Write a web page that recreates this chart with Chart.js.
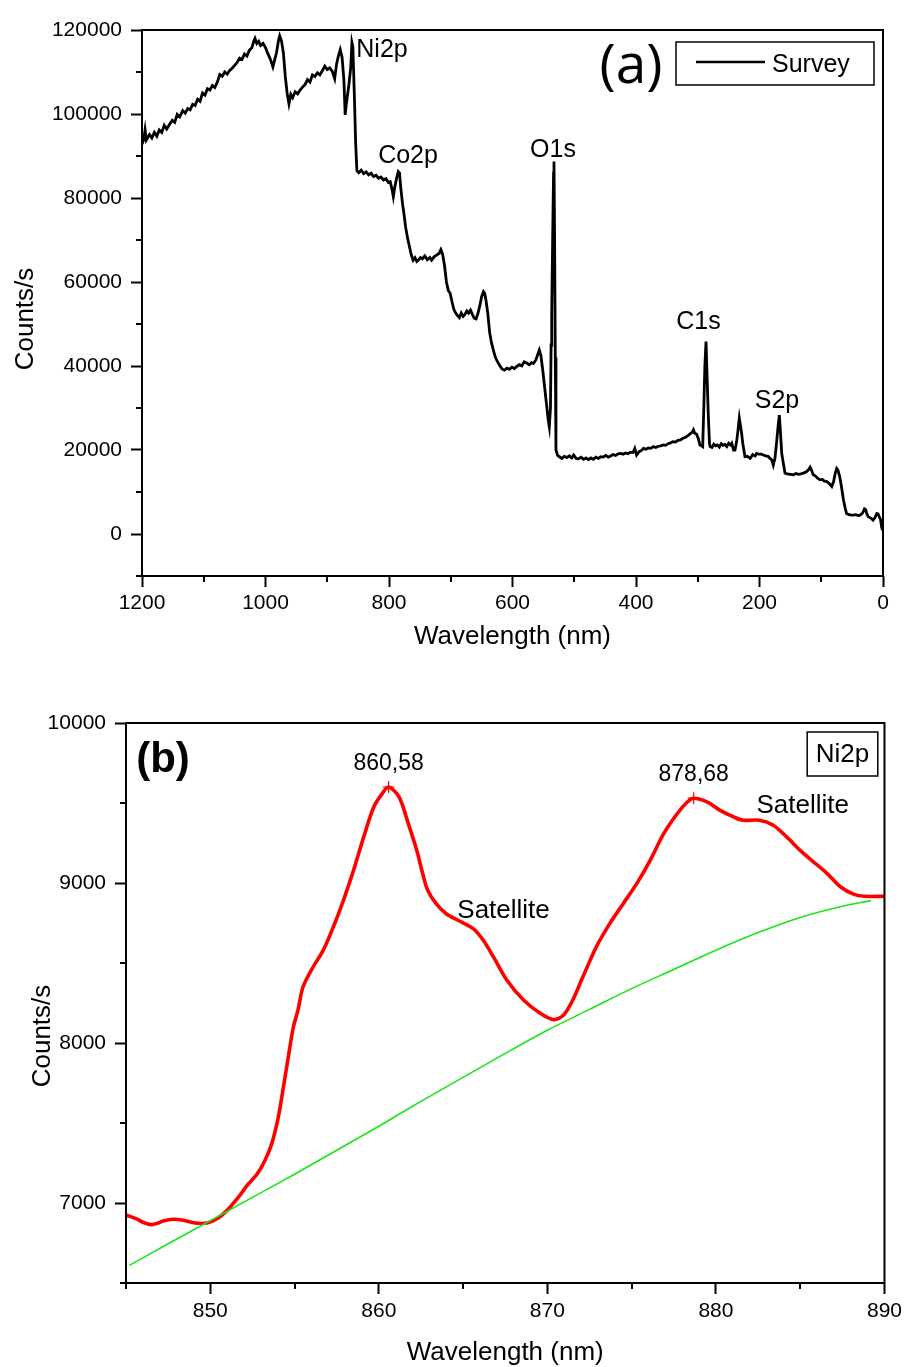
<!DOCTYPE html>
<html>
<head>
<meta charset="utf-8">
<title>XPS spectra</title>
<script src="https://cdn.jsdelivr.net/npm/chart.js@4.4.0/dist/chart.umd.min.js"></script>
<style>
  html, body { margin: 0; padding: 0; background: #fff; }
  #wrap { position: relative; width: 907px; height: 1367px; overflow: hidden; background: #fff; }
  canvas { position: absolute; left: 0; }
  #survey { top: 0; width: 907px; height: 680px; }
  #ni2p { top: 680px; width: 907px; height: 687px; }
</style>
</head>
<body>
<div id="wrap">
  <canvas id="survey" width="907" height="680"></canvas>
  <canvas id="ni2p" width="907" height="687"></canvas>
</div>
<script>
// ---------- (a) survey spectrum ----------
const surveyEnergy = [
  1200,1197,1195,1193,1188,1184,1180,1176,1172,1168,1164,1160,1155,1151,1147,1143,1139,1134,1130,1126,
  1122,1118,1114,1110,1106,1102,1098,1094,1090,1086,1082,1078,1074,1070,1066,1062,1058,1054,1050,1046,
  1042,1038,1034,1030,1026,1022,1019,1017,1014,1011,1008,1004,1000,996,992,988,985,982,979,977,
  974,971,968,965,962,959,956,952,948,944,940,936,932,928,924,920,916,912,908,904,
  900,896,892,888,885,882,879,876,873,871,869,867,865,862,860,858.5,856,854,852,849,
  845,841,837,833,829,825,821,817,813,809,805,801,798,795,793,791,788,785,783,781,
  778,776,773,770,767,764,761,758,755,752,749,746,742,738,734,731,727,723,719,716,
  713,710,707,704,701,698,695,692,689,686,683,680,677,674,671,668,665,662,659,656,
  653,650,647,645,643,640,637,634,631,628,625,621,617,613,609,605,601,597,593,589,
  585,581,577,573,569,566,562,559,556.6,554,551,548,545,542,540.4,538.5,537.5,536.5,535,533.5,
  532.8,531.8,530.7,529.6,527,524,520,516,512,508,504,501,497,493,489,485,481,477,473,469,
  465,461,457,453,449,445,441,437,433,429,425,421,417,413,409,405,402,399,395,391,
  388,384,380,376,372,368,364,360,356,352,348,344,340,336,332,328,324,320,316,312,
  309,307,305,302,299,296.5,294,292,290,288.5,286.6,285,283,281,280,277,274,271,268,265,
  262,259,256,253,250,247,245,242,239.7,237,235,232.7,230.5,229,227,223.5,220,215,211,207,
  204.6,201,197,194,190,186,183,180,177.7,175,172.2,170,167.9,166,164,161,158.7,155,150,145,
  141,137,133,129,124,120,118,116,113,110,106,102,98,95,91,87,83,80,77,75,
  73,70,67,64,61,59,55,51,48,44,40,37,33,30,28,26,23.8,20,16,13,
  10,8,6,4,2,0
];
const surveyCounts = [
  92800,94000,96200,93800,95100,94300,95600,94700,96200,95600,97300,96400,97600,98500,98000,99900,99300,100800,100200,101300,
  101000,102300,102000,103500,103000,105000,104500,106000,105700,106800,106300,107600,109400,109000,110000,109500,110400,110900,111600,112300,
  113300,113000,114300,113800,115200,115800,117300,118000,116800,117300,116300,116800,115800,114300,113000,111200,113000,114700,117500,118600,
  117300,114500,109000,105000,102400,104700,103900,105300,104800,105700,106400,107000,108200,107600,109300,108900,109800,109300,110300,111400,
  110600,111000,110200,108400,111800,113800,115300,113500,108000,99800,102500,104700,106900,111000,117000,116000,104000,93000,86500,86000,
  86600,85800,86200,85500,85900,85100,85400,84700,85000,84300,84600,83700,83900,82000,80300,82300,84500,86300,86000,82500,
  78500,76500,73000,70500,68500,66500,65200,65800,64900,65300,65800,65500,66200,65300,65800,65200,66000,66400,66800,67700,
  66500,63800,60000,58000,57300,55300,53500,52600,52000,51500,52600,51800,52300,53100,52600,53300,52300,51400,51200,52500,
  54300,56500,57700,57300,55700,52500,48000,45500,43800,42200,41200,40200,39300,39000,39500,39200,39700,39400,39900,40300,
  40000,41000,40700,40300,40800,40600,41500,42800,43800,42500,39000,35000,31000,27000,25500,30000,45000,52000,70000,86000,
  88700,70000,42000,20000,18700,18400,18000,18500,18200,18600,18100,18800,18000,17900,18300,17800,18100,17700,18100,17800,
  18300,18000,18400,18300,18700,18300,18600,18900,18700,19100,19200,19000,19300,19100,19500,19400,20400,18800,19600,19900,
  20400,20200,20500,20400,20800,20600,20900,21000,21200,21100,21500,21700,22000,21900,22300,22400,22800,23000,23400,23900,
  24200,24800,24000,23800,22700,21200,21000,20800,31000,40000,45800,38000,28700,21500,20800,20600,21400,21000,21200,20700,
  21500,21100,21300,20800,21600,21200,21600,20000,20000,22000,24500,27600,25500,24000,21500,18400,18500,18000,18900,18600,
  19200,19000,19000,18800,18600,18500,18000,17600,16400,18000,22000,25500,28300,24000,19200,16500,14500,14300,14200,14100,
  14400,14200,14300,14500,14800,15400,15900,15300,14100,13900,13300,12900,13000,12600,12500,12000,11300,12500,14700,15600,
  15200,13600,11000,8100,6000,4900,4600,4500,4500,4600,4400,4500,5000,6000,5800,4700,4100,3800,3300,3900,
  4900,4800,4100,3500,1400,900
];
const surveyXTicks = [1200, 1000, 800, 600, 400, 200, 0];
const surveyXMinor = [1100, 900, 700, 500, 300, 100];
const surveyYTicks = [0, 20000, 40000, 60000, 80000, 100000, 120000];
const surveyYMinor = [-10000, 10000, 30000, 50000, 70000, 90000, 110000];

// core-level names and where their captions sit (energy, counts at text baseline)
const surveyPeakNames = ['Ni2p', 'Co2p', 'O1s', 'C1s', 'S2p'];
const surveyPeakTextE = [811.3, 769.2, 534.4, 298.8, 171.7];
const surveyPeakTextC = [113650, 88270, 89700, 48740, 30070];

// ---------- (b) Ni 2p region ----------
const ni2pEnergy = [
  845.0,845.6,846.0,846.5,846.9,847.2,847.8,848.4,849.1,849.8,850.4,851.0,851.6,852.2,852.8,853.25,853.65,854.04,854.34,854.63,
  854.93,855.2,855.5,856.1,856.7,857.3,857.9,858.5,859.1,859.7,860.2,860.58,861.2,861.75,862.25,862.6,862.9,863.4,864.0,864.7,
  865.6,866.2,866.8,867.6,868.6,869.6,870.36,870.95,871.5,872.1,872.9,873.7,874.5,875.3,876.1,876.9,877.7,878.3,878.68,879.5,
  880.25,881.05,881.6,882.6,883.4,884.2,885.0,885.8,886.6,887.4,888.2,888.8,890.0
];
const ni2pCounts = [
  6925,6902,6880,6865,6875,6888,6898,6892,6875,6875,6902,6954,7027,7111,7184,7267,7371,7538,7725,7913,
  8100,8204,8350,8475,8579,8725,8892,9079,9287,9475,9559,9600,9538,9371,9204,9059,8954,8871,8808,8767,
  8715,8642,8538,8392,8267,8184,8146,8173,8267,8412,8600,8746,8871,8996,9142,9308,9433,9506,9530,9506,
  9454,9413,9392,9392,9361,9288,9204,9131,9059,8975,8929,8917,8917
];
const baselineEnergy = [845.2,847.5,850,852.5,855,857.5,860,862.5,865,867.5,870,872.5,875,877.5,880,882.5,885,887.5,889.2];
const baselineCounts = [6610,6745,6890,7035,7180,7330,7480,7635,7785,7935,8080,8210,8340,8460,8580,8690,8785,8855,8890];
const ni2pPeakEnergy = [860.58, 878.68];
const ni2pPeakCounts = [9600, 9530];
const satelliteNames = ['Satellite', 'Satellite'];
const satelliteTextE = [867.4, 885.15];
const satelliteTextC = [8784, 9437];
const ni2pXTicks = [850, 860, 870, 880, 890];
const ni2pXMinor = [845, 855, 865, 875, 885];
const ni2pYTicks = [7000, 8000, 9000, 10000];
const ni2pYMinor = [6500, 7500, 8500, 9500];

// ---------- shared helpers ----------
const SANS = "'Liberation Sans', Arial, Helvetica, sans-serif";
Chart.defaults.font.family = SANS;
Chart.defaults.color = '#000';

const toPoints = (xs, ys) => xs.map((v, i) => ({ x: v, y: ys[i] }));

function drawText(ctx, str, x, y, font, align) {
  ctx.font = font;
  ctx.textAlign = align || 'center';
  ctx.textBaseline = 'alphabetic';
  ctx.fillStyle = '#000';
  ctx.fillText(str, x, y);
}

function drawVerticalTitle(ctx, str, x, y, font) {
  ctx.save();
  ctx.translate(x, y);
  ctx.rotate(-Math.PI / 2);
  drawText(ctx, str, 0, 0, font, 'center');
  ctx.restore();
}

// plot frame plus the short minor tick marks
function frameWithMinorTicks(minorX, minorY) {
  return {
    id: 'frameWithMinorTicks',
    afterDatasetsDraw(chart) {
      const { ctx, chartArea: a, scales: { x, y } } = chart;
      ctx.save();
      ctx.strokeStyle = '#000';
      ctx.lineWidth = 2;
      ctx.strokeRect(a.left, a.top, a.right - a.left, a.bottom - a.top);
      ctx.beginPath();
      minorX.forEach(v => {
        const p = Math.round(x.getPixelForValue(v));
        ctx.moveTo(p, a.bottom); ctx.lineTo(p, a.bottom + 6);
      });
      minorY.forEach(v => {
        const p = Math.round(y.getPixelForValue(v));
        ctx.moveTo(a.left, p); ctx.lineTo(a.left - 6, p);
      });
      ctx.stroke();
      ctx.restore();
    }
  };
}

function linearAxis(min, max, majors, size, pad, extra) {
  return Object.assign({
    type: 'linear',
    min: min,
    max: max,
    bounds: 'data',
    afterBuildTicks: s => { s.ticks = majors.map(v => ({ value: v })); },
    ticks: {
      autoSkip: false,
      maxRotation: 0,
      padding: pad,
      font: { size: size },
      callback: v => String(v)
    },
    grid: {
      drawOnChartArea: false,
      drawTicks: true,
      tickLength: 11,
      tickWidth: 2,
      tickColor: '#000'
    },
    border: { display: false }
  }, extra || {});
}

// ---------- chart (a) ----------
const surveyDecor = {
  id: 'surveyDecor',
  afterDraw(chart) {
    const { ctx, chartArea: a, scales: { x, y } } = chart;
    ctx.save();
    surveyPeakNames.forEach((name, i) => {
      drawText(ctx, name, x.getPixelForValue(surveyPeakTextE[i]), y.getPixelForValue(surveyPeakTextC[i]), '25px ' + SANS);
    });
    drawText(ctx, '(a)', a.right - 252, a.top + 53, "55px 'Open Sans', 'Noto Sans', sans-serif");

    // legend
    const ds = chart.data.datasets[0];
    const bx = a.right - 207, by = a.top + 12, bw = 198, bh = 43;
    ctx.strokeStyle = '#000';
    ctx.lineWidth = 1.5;
    ctx.strokeRect(bx, by, bw, bh);
    ctx.beginPath();
    ctx.lineWidth = 2.4;
    ctx.strokeStyle = ds.borderColor;
    ctx.moveTo(bx + 20, by + 20);
    ctx.lineTo(bx + 89, by + 20);
    ctx.stroke();
    drawText(ctx, ds.label, bx + 96, by + 29.7, '25px ' + SANS, 'left');

    drawVerticalTitle(ctx, 'Counts/s', 33, 319, '26px ' + SANS);
    ctx.restore();
  }
};

new Chart(document.getElementById('survey'), {
  type: 'line',
  data: {
    datasets: [{
      label: 'Survey',
      data: toPoints(surveyEnergy, surveyCounts),
      borderColor: '#000',
      borderWidth: 2.8,
      pointRadius: 0,
      tension: 0,
      fill: false
    }]
  },
  options: {
    responsive: false,
    devicePixelRatio: 1,
    animation: false,
    layout: { padding: { top: 30, right: 24, left: 0, bottom: 0 } },
    plugins: { legend: { display: false }, tooltip: { enabled: false } },
    scales: {
      x: linearAxis(0, 1200, surveyXTicks, 21, 4, {
        reverse: true,
        title: { display: true, text: 'Wavelength (nm)', font: { size: 26, lineHeight: 1 }, padding: { top: 0, bottom: 30 } },
        afterFit: s => { s.height = 104; }
      }),
      y: linearAxis(-10000, 120000, surveyYTicks, 21, 9, {
        afterFit: s => { s.width = 142; }
      })
    }
  },
  plugins: [frameWithMinorTicks(surveyXMinor, surveyYMinor), surveyDecor]
});

// ---------- chart (b) ----------
const ni2pDecor = {
  id: 'ni2pDecor',
  afterDraw(chart) {
    const { ctx, chartArea: a, scales: { x, y } } = chart;
    ctx.save();
    ni2pPeakEnergy.forEach((e, i) => {
      const label = e.toFixed(2).replace('.', ',');
      drawText(ctx, label, x.getPixelForValue(e), y.getPixelForValue(ni2pPeakCounts[i]) - 17.5, '23px ' + SANS);
    });
    satelliteNames.forEach((name, i) => {
      drawText(ctx, name, x.getPixelForValue(satelliteTextE[i]), y.getPixelForValue(satelliteTextC[i]), '26px ' + SANS);
    });
    drawText(ctx, '(b)', a.left + 37, a.top + 49, 'bold 42px ' + SANS);

    // region tag
    const bw = 70.6, bh = 44, bx = a.right - 77.3, by = a.top + 9;
    ctx.strokeStyle = '#000';
    ctx.lineWidth = 1.5;
    ctx.strokeRect(bx, by, bw, bh);
    drawText(ctx, 'Ni2p', bx + bw / 2, a.top + 39, '26px ' + SANS);

    drawVerticalTitle(ctx, 'Counts/s', 50, 356, '26px ' + SANS);
    ctx.restore();
  }
};

new Chart(document.getElementById('ni2p'), {
  type: 'line',
  data: {
    datasets: [
      {
        label: 'Background',
        data: toPoints(baselineEnergy, baselineCounts),
        borderColor: '#19e619',
        borderWidth: 1.6,
        pointRadius: 0,
        tension: 0.3,
        fill: false
      },
      {
        label: 'Ni2p',
        data: toPoints(ni2pEnergy, ni2pCounts),
        borderColor: '#ff0000',
        borderWidth: 3.6,
        pointRadius: 0,
        tension: 0.3,
        fill: false
      },
      {
        label: 'Peak maxima',
        data: toPoints(ni2pPeakEnergy, ni2pPeakCounts),
        showLine: false,
        pointStyle: 'cross',
        pointRadius: 6,
        borderColor: '#ff0000',
        borderWidth: 1.2
      }
    ]
  },
  options: {
    responsive: false,
    devicePixelRatio: 1,
    animation: false,
    layout: { padding: { top: 43, right: 22, left: 0, bottom: 0 } },
    plugins: { legend: { display: false }, tooltip: { enabled: false } },
    scales: {
      x: linearAxis(845, 890, ni2pXTicks, 21, 5, {
        title: { display: true, text: 'Wavelength (nm)', font: { size: 26, lineHeight: 1 }, padding: { top: 0, bottom: 1 } },
        afterFit: s => { s.height = 84; }
      }),
      y: linearAxis(6500, 10000, ni2pYTicks, 21, 9, {
        afterFit: s => { s.width = 126; }
      })
    }
  },
  plugins: [frameWithMinorTicks(ni2pXMinor, ni2pYMinor), ni2pDecor]
});
</script>
</body>
</html>
